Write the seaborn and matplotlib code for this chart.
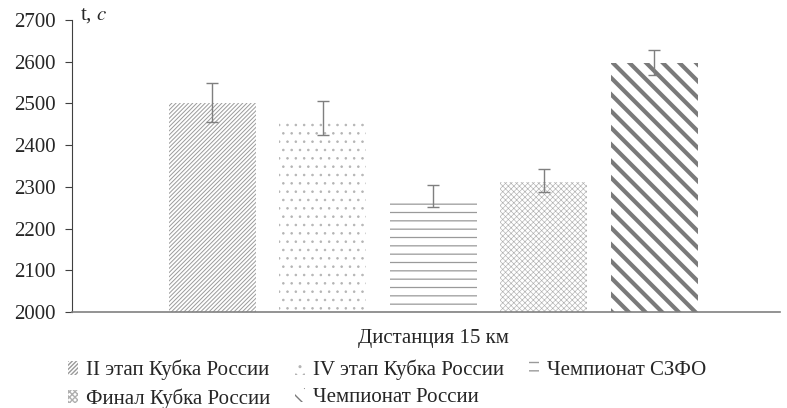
import matplotlib
matplotlib.use("Agg")
import matplotlib.pyplot as plt
import seaborn as sns
import pandas as pd

# values
distance = ["Дистанция 15 км"]
events = ["II этап Кубка России", "IV этап Кубка России", "Чемпионат СЗФО",
          "Финал Кубка России", "Чемпионат России"]
times = [2500, 2460, 2275, 2312, 2597]
err_low = [2455, 2425, 2252, 2288, 2568]
err_high = [2549, 2505, 2305, 2343, 2627]

hatches = ["////////", "..", "--", "xxxxxx", "\\\\"]
hatch_colors = ["#9a9a9a", "#b4b4b4", "#9a9a9a", "#b0b0b0", "#7a7a7a"]
hatch_widths = [0.7, 0.6, 0.9, 0.45, 3.0]

df = pd.DataFrame({"distance": distance * len(events), "event": events, "time": times})

sns.set_style("white")
plt.rcParams["font.family"] = ["Liberation Serif", "DejaVu Serif"]
plt.rcParams["mathtext.fontset"] = "stix"

fig = plt.figure(figsize=(7.87, 4.08), dpi=100)
ax = fig.add_axes([0.0915, 0.235, 0.9, 0.716])

ax = sns.barplot(data=df, x="distance", y="time", hue="event", hue_order=events,
                 palette={e: "white" for e in events}, width=0.78, gap=0.21,
                 legend=False, ax=ax)

bars = list(ax.patches)[:len(events)]
for i, b in enumerate(bars):
    b.set_edgecolor(hatch_colors[i])
    b.set_linewidth(0)
    b.set_hatch(hatches[i])
    if hasattr(b, "set_hatch_linewidth"):
        b.set_hatch_linewidth(hatch_widths[i])

xs = [b.get_x() + b.get_width() / 2 for b in bars]
lower = [t - l for t, l in zip(times, err_low)]
upper = [h - t for t, h in zip(times, err_high)]
ax.errorbar(xs, times, yerr=[lower, upper], fmt="none", ecolor="#7f7f7f",
            elinewidth=1, capsize=4, capthick=1)

ax.set_xlim(-0.51, 0.49)
ax.set_ylim(2000, 2700)
ax.set_yticks(range(2000, 2701, 100))
ax.set_xlabel("")
ax.set_ylabel("")
for s in ["top", "right"]:
    ax.spines[s].set_visible(False)
ax.spines["left"].set_color("#404040")
ax.spines["bottom"].set_color("#808080")
ax.spines["bottom"].set_linewidth(1.2)
ax.tick_params(axis="y", left=True, length=5, width=0.8, color="#404040",
               labelsize=15, pad=7)
ax.tick_params(axis="x", bottom=False, labelsize=15, pad=9)

fig.text(0.102, 0.962, "t, $\\it{c}$", fontsize=15, va="center", ha="left")

order = [0, 3, 1, 4, 2]
leg = fig.legend([bars[i] for i in order], [events[i] for i in order], ncol=3,
                 loc="upper left", bbox_to_anchor=(0.087, 0.118), frameon=False,
                 fontsize=15, handlelength=0.45, handleheight=0.6,
                 handletextpad=0.4, columnspacing=1.2, labelspacing=0.38,
                 borderpad=0, borderaxespad=0)

fig.savefig("out.png", dpi=100)
